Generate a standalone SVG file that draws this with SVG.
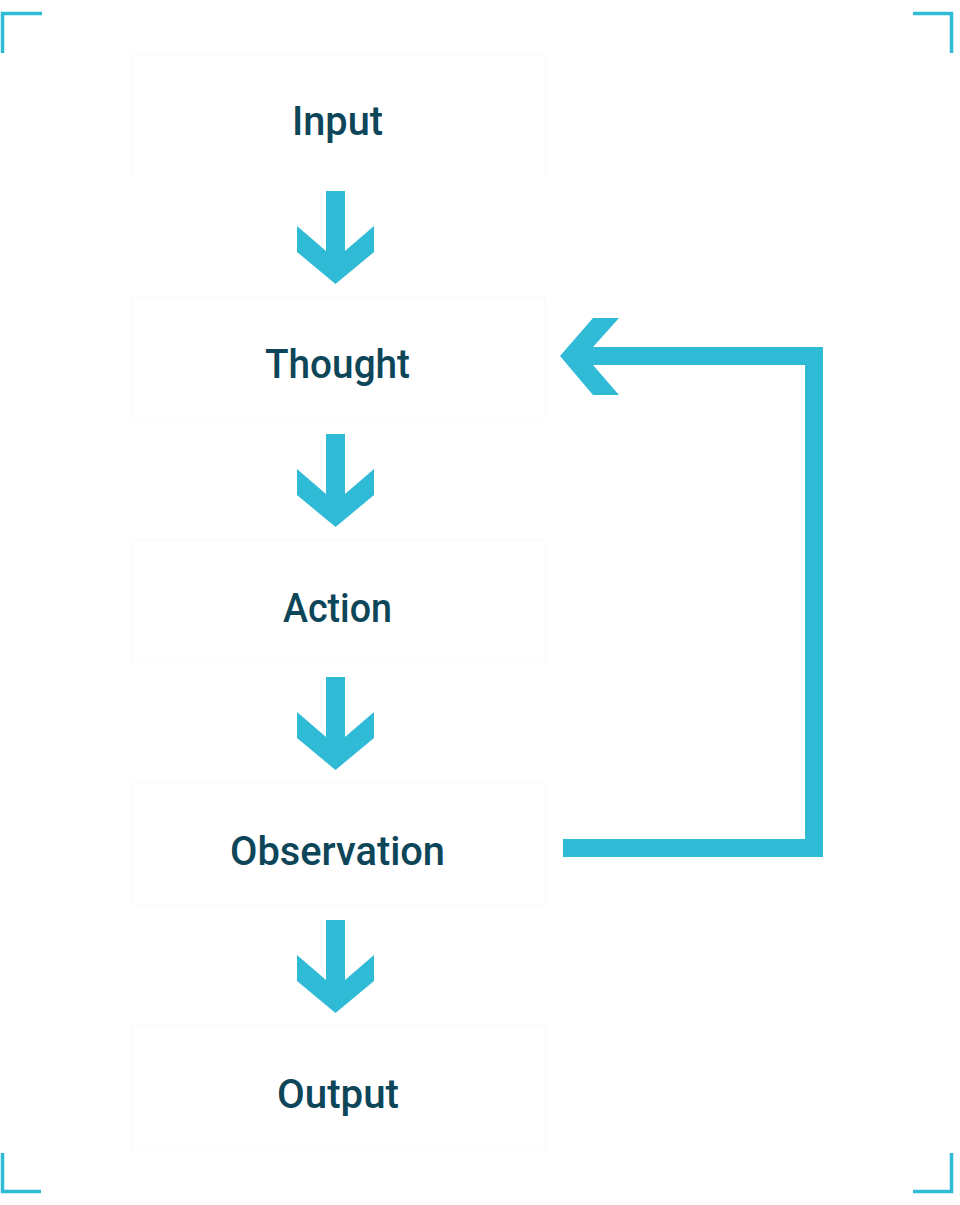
<svg xmlns="http://www.w3.org/2000/svg" width="960" height="1205" viewBox="0 0 960 1205">
<style>
.box{fill:#ffffff;stroke:#fcfcfc;stroke-width:1.5}
.lbl{font-family:Roboto,"DejaVu Sans Condensed",sans-serif;font-weight:500;font-size:41px;fill:#0d4559;text-anchor:middle}
.arw{fill:#2fbad6}
.brk{fill:none;stroke:#2fbad6;stroke-width:3.5}
</style>
<defs>
<polygon id="down" points="326,0 345,0 345,60 374,35 374,61 335.5,93 297,61 297,35 326,60"/>
</defs>
<rect width="960" height="1205" fill="#ffffff"/>
<g id="corners">
<path class="brk" d="M2.5,53 V13.5 H42"/>
<path class="brk" d="M913,13.5 H951.5 V53"/>
<path class="brk" d="M2.5,1153 V1191.5 H41"/>
<path class="brk" d="M913,1191.5 H951.5 V1153"/>
</g>
<g id="node-input"><rect class="box" x="132" y="54" width="413" height="122"/><text class="lbl" x="337.5" y="135" textLength="91" lengthAdjust="spacingAndGlyphs">Input</text></g>
<g id="node-thought"><rect class="box" x="132" y="297" width="413" height="122"/><text class="lbl" x="337.5" y="378" textLength="145" lengthAdjust="spacingAndGlyphs">Thought</text></g>
<g id="node-action"><rect class="box" x="132" y="540" width="413" height="122"/><text class="lbl" x="337.5" y="622" textLength="109" lengthAdjust="spacingAndGlyphs">Action</text></g>
<g id="node-observation"><rect class="box" x="132" y="783" width="413" height="122"/><text class="lbl" x="337.5" y="865" textLength="215" lengthAdjust="spacingAndGlyphs">Observation</text></g>
<g id="node-output"><rect class="box" x="132" y="1026" width="413" height="124"/><text class="lbl" x="338" y="1108" textLength="122" lengthAdjust="spacingAndGlyphs">Output</text></g>
<g id="connectors">
<use href="#down" class="arw" y="191"/>
<use href="#down" class="arw" y="434"/>
<use href="#down" class="arw" y="677"/>
<use href="#down" class="arw" y="920"/>
<polygon class="arw" points="560,356 593,318 619,318 593,347 823,347 823,857 563,857 563,839 805,839 805,365 593,365 619,395 593,395"/>
</g>
</svg>
